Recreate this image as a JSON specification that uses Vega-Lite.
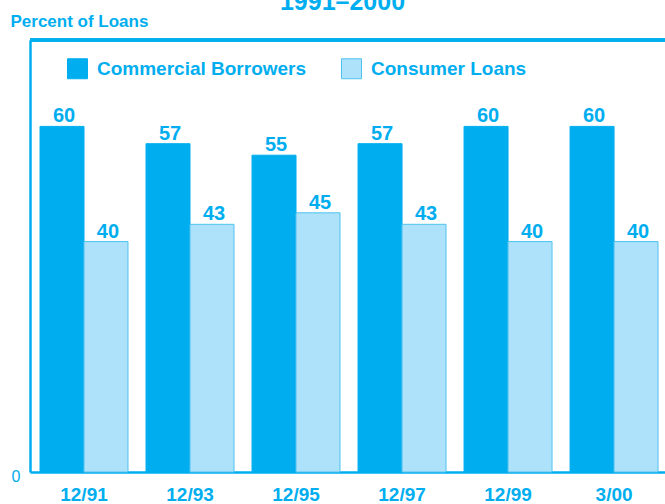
{
  "$schema": "https://vega.github.io/schema/vega-lite/v6.json",
  "width": 635,
  "height": 432,
  "autosize": {"type": "none"},
  "padding": {"left": 30, "top": 40, "right": 0, "bottom": 32},
  "title": {
    "text": "1991–2000",
    "anchor": "middle",
    "frame": "group",
    "fontSize": 25,
    "fontWeight": "bold",
    "color": "#00AEEF",
    "baseline": "alphabetic",
    "offset": 0,
    "dx": -5,
    "dy": 23
  },
  "config": {
    "font": "Liberation Sans",
    "view": {"stroke": null},
    "axis": {"domainColor": "#00AEEF", "domainWidth": 2.5, "grid": false, "ticks": false}
  },
  "data": {
    "values": [
      {"date": "12/91", "series": "Commercial Borrowers", "value": 60},
      {"date": "12/91", "series": "Consumer Loans", "value": 40},
      {"date": "12/93", "series": "Commercial Borrowers", "value": 57},
      {"date": "12/93", "series": "Consumer Loans", "value": 43},
      {"date": "12/95", "series": "Commercial Borrowers", "value": 55},
      {"date": "12/95", "series": "Consumer Loans", "value": 45},
      {"date": "12/97", "series": "Commercial Borrowers", "value": 57},
      {"date": "12/97", "series": "Consumer Loans", "value": 43},
      {"date": "12/99", "series": "Commercial Borrowers", "value": 60},
      {"date": "12/99", "series": "Consumer Loans", "value": 40},
      {"date": "3/00", "series": "Commercial Borrowers", "value": 60},
      {"date": "3/00", "series": "Consumer Loans", "value": 40}
    ]
  },
  "encoding": {
    "x": {
      "field": "date",
      "type": "nominal",
      "sort": null,
      "scale": {"paddingInner": 0.17, "paddingOuter": 0.08, "align": 0.59},
      "axis": {
        "title": null,
        "labelAngle": 0,
        "labelPadding": 13,
        "labelFontSize": 19,
        "labelFontWeight": "bold",
        "labelColor": "#00AEEF"
      }
    },
    "xOffset": {"field": "series", "type": "nominal", "scale": {"paddingInner": 0, "paddingOuter": 0}},
    "y": {
      "field": "value",
      "type": "quantitative",
      "scale": {"domain": [0, 75], "nice": false},
      "axis": {
        "values": [0],
        "labelPadding": 10,
        "labelFontSize": 16,
        "labelColor": "#00AEEF",
        "labelOffset": 4,
        "title": "Percent of Loans",
        "titleAngle": 0,
        "titleX": -20,
        "titleY": -14,
        "titleAlign": "left",
        "titleBaseline": "alphabetic",
        "titleFontSize": 17,
        "titleFontWeight": "bold",
        "titleColor": "#00AEEF"
      }
    }
  },
  "layer": [
    {
      "mark": {"type": "bar", "strokeWidth": 1},
      "encoding": {
        "fill": {
          "field": "series",
          "type": "nominal",
          "scale": {"range": ["#00AEEF", "#AEE1FA"]},
          "legend": {
            "orient": "none",
            "legendX": 37,
            "legendY": 18,
            "direction": "horizontal",
            "title": null,
            "symbolType": "square",
            "symbolSize": 400,
            "symbolStrokeWidth": 1,
            "labelFontSize": 19,
            "labelFontWeight": "bold",
            "labelColor": "#00AEEF",
            "labelOffset": 9,
            "labelLimit": 0,
            "columnPadding": 32
          }
        },
        "stroke": {
          "field": "series",
          "type": "nominal",
          "scale": {"range": ["#00AEEF", "#4FC3F0"]}
        }
      }
    },
    {
      "mark": {"type": "text", "fontSize": 20, "fontWeight": "bold", "color": "#00AEEF", "baseline": "alphabetic", "dy": -4, "dx": 2},
      "encoding": {"text": {"field": "value", "type": "quantitative"}}
    },
    {
      "mark": {"type": "rule", "color": "#00AEEF", "strokeWidth": 2.5},
      "encoding": {"y": {"datum": 75}, "x": null, "xOffset": null}
    }
  ]
}
